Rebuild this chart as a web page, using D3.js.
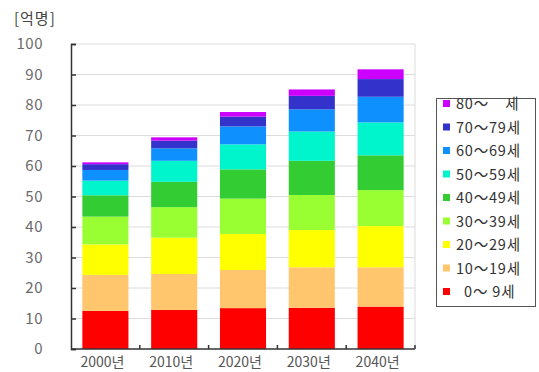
<!DOCTYPE html>
<html>
<head>
<meta charset="utf-8">
<script src="https://cdn.jsdelivr.net/npm/d3@7/dist/d3.min.js"></script>
<style>
  html, body { margin: 0; padding: 0; background: #fff; }
  svg { display: block; }
  text { font-family: "Noto Sans CJK KR", "DejaVu Sans", sans-serif; }
</style>
</head>
<body>
<svg id="chart" width="539" height="372"></svg>
<script>
// World population by age group (hundred millions)
const years = ["2000년", "2010년", "2020년", "2030년", "2040년"];
const ageGroups = ["  0～ 9세", "10～19세", "20～29세", "30～39세", "40～49세", "50～59세", "60～69세", "70～79세", "80～    세"];
const age0_9   = [12.5, 12.8, 13.4, 13.5, 13.9];
const age10_19 = [11.8, 11.8, 12.5, 13.3, 12.9];
const age20_29 = [10.0, 11.9, 11.8, 12.2, 13.5];
const age30_39 = [9.1, 10.0, 11.6, 11.5, 11.8];
const age40_49 = [7.0, 8.3, 9.6, 11.2, 11.4];
const age50_59 = [4.8, 6.9, 8.2, 9.6, 10.8];
const age60_69 = [3.5, 4.1, 5.9, 7.3, 8.4];
const age70_79 = [1.9, 2.5, 3.2, 4.4, 5.8];
const age80up  = [0.6, 1.1, 1.5, 2.1, 3.2];
const yTicks = [0, 10, 20, 30, 40, 50, 60, 70, 80, 90, 100];
const unitLabel = "[억명]";

const seriesValues = [age0_9, age10_19, age20_29, age30_39, age40_49, age50_59, age60_69, age70_79, age80up];
const colors = ["#ff0000", "#ffc66e", "#ffff00", "#99ff33", "#33cc33", "#00f5cc", "#0f90ff", "#3333cc", "#cc00ff"];

const rows = years.map((y, i) => {
  const r = { year: y };
  ageGroups.forEach((g, k) => { r[g] = seriesValues[k][i]; });
  return r;
});

const svg = d3.select("#chart");
const plot = { left: 71, right: 415, top: 44, bottom: 349 };

const x = d3.scaleBand().domain(years).range([plot.left, plot.right])
  .paddingInner(0.33).paddingOuter(0.165);
const y = d3.scaleLinear().domain([0, 100]).range([plot.bottom, plot.top]);

// gridlines
svg.append("g").selectAll("line").data(yTicks.filter(t => t > 0)).join("line")
  .attr("x1", plot.left).attr("x2", plot.right)
  .attr("y1", d => y(d)).attr("y2", d => y(d))
  .attr("stroke", "#dcdcdc").attr("stroke-width", 1);

// right plot border
svg.append("line")
  .attr("x1", plot.right).attr("x2", plot.right)
  .attr("y1", plot.top).attr("y2", plot.bottom)
  .attr("stroke", "#dcdcdc");

// stacked bars
const stack = d3.stack().keys(ageGroups);
const layers = stack(rows);
svg.append("g").selectAll("g").data(layers).join("g")
  .attr("fill", (d, i) => colors[i])
  .selectAll("rect").data(d => d).join("rect")
  .attr("x", d => x(d.data.year))
  .attr("width", x.bandwidth())
  .attr("y", d => y(d[1]))
  .attr("height", d => y(d[0]) - y(d[1]));

// y axis
const yAxis = d3.axisRight(y).tickValues(yTicks).tickSize(5).tickFormat("");
const ya = svg.append("g").attr("transform", `translate(${plot.left},0)`).call(yAxis);
ya.select(".domain").attr("stroke", "#333").attr("stroke-width", 1.5);
ya.selectAll(".tick line").attr("stroke", "#333").attr("stroke-width", 1.5);

svg.append("g").selectAll("text").data(yTicks).join("text")
  .attr("x", 43).attr("y", d => y(d))
  .attr("dy", "0.36em")
  .attr("text-anchor", "end")
  .attr("fill", "#6a6a6a")
  .attr("font-size", 15)
  .attr("letter-spacing", "0.5px")
  .text(d => d);

// x axis baseline with small inward ticks at category boundaries
svg.append("line")
  .attr("x1", plot.left).attr("x2", plot.right)
  .attr("y1", plot.bottom).attr("y2", plot.bottom)
  .attr("stroke", "#333").attr("stroke-width", 1.5);
const bounds = years.map(yr => x(yr) - x.step() * x.paddingInner() / 2 + x.step());
svg.append("g").selectAll("line").data(bounds).join("line")
  .attr("x1", d => d).attr("x2", d => d)
  .attr("y1", plot.bottom).attr("y2", plot.bottom - 4)
  .attr("stroke", "#333").attr("stroke-width", 1.5);

svg.append("g").selectAll("text").data(years).join("text")
  .attr("x", d => x(d) + x.bandwidth() / 2 - 3)
  .attr("y", 367)
  .attr("text-anchor", "middle")
  .attr("fill", "#555")
  .attr("font-size", 14)
  .text(d => d);

// unit label
svg.append("text")
  .attr("x", 14).attr("y", 24)
  .attr("fill", "#444")
  .attr("font-size", 15)
  .attr("letter-spacing", "1px")
  .text(unitLabel);

// legend (top group first)
const legend = svg.append("g");
legend.append("rect")
  .attr("x", 436.5).attr("y", 98.5)
  .attr("width", 99).attr("height", 208)
  .attr("fill", "#fff").attr("stroke", "#555").attr("stroke-width", 1);
const legendItems = ageGroups.map((g, i) => ({ g, c: colors[i] })).reverse();
const ly = d3.scalePoint().domain(legendItems.map(d => d.g)).range([104, 292]);
const li = legend.selectAll("g.item").data(legendItems).join("g").attr("class", "item")
  .attr("transform", d => `translate(0,${ly(d.g)})`);
li.append("rect")
  .attr("x", 443).attr("y", -4).attr("width", 7).attr("height", 7)
  .attr("fill", d => d.c);
li.append("text")
  .attr("x", 456).attr("dy", "0.36em")
  .attr("fill", "#333")
  .attr("font-size", 14.5)
  .attr("letter-spacing", "0.8px")
  .style("white-space", "pre")
  .text(d => d.g);
</script>
</body>
</html>
